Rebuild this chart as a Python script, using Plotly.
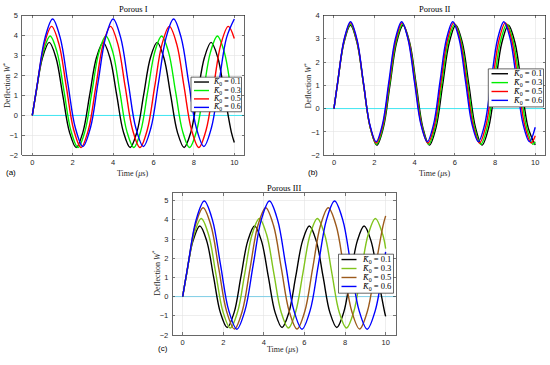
import plotly.graph_objects as go

W_PX, H_PX = 550, 365

# ---------------- data ----------------
K0_values = [0.1, 0.3, 0.5, 0.6]
x_tick_vals = [0, 2, 4, 6, 8, 10]
y_ticks_I = [-2, -1, 0, 1, 2, 3, 4, 5]
y_ticks_II = [-2, -1, 0, 1, 2, 3, 4]
y_ticks_III = [-2, -1, 0, 1, 2, 3, 4, 5]

zero_x_I = [0, 10.5]
zero_x_II = [-0.5, 10.5]
zero_x_III = [-0.5, 10.5]
zero_y = [0, 0]

# Porous I
t_I_01 = [0, 0.170, 0.504, 0.838, 1.172, 1.506, 1.840, 2.174, 2.507, 2.841, 3.175, 3.509, 3.843, 4.177,
          4.511, 4.845, 5.179, 5.513, 5.847, 6.180, 6.514, 6.848, 7.182, 7.516, 7.850, 8.184, 8.518,
          8.852, 9.186, 9.519, 9.853, 10]
W_I_01 = [0, 1.025, 2.881, 3.65, 2.881, 1.025, -0.831, -1.6, -0.831,
          1.025, 2.881, 3.65, 2.881, 1.025, -0.831, -1.6, -0.831,
          1.025, 2.881, 3.65, 2.881, 1.025, -0.831, -1.6, -0.831,
          1.025, 2.881, 3.65, 2.881, 1.025, -0.831, -1.35]
t_I_03 = [0, 0.193, 0.538, 0.883, 1.228, 1.573, 1.918, 2.263, 2.608, 2.953, 3.298, 3.643, 3.988, 4.333,
          4.678, 5.023, 5.368, 5.713, 6.058, 6.403, 6.748, 7.093, 7.438, 7.783, 8.128, 8.473, 8.818,
          9.163, 9.508, 9.853, 10]
W_I_03 = [0, 1.185, 3.154, 3.97, 3.154, 1.185, -0.784, -1.6, -0.784,
          1.185, 3.154, 3.97, 3.154, 1.185, -0.784, -1.6, -0.784,
          1.185, 3.154, 3.97, 3.154, 1.185, -0.784, -1.6, -0.784,
          1.185, 3.154, 3.97, 3.154, 1.185, 0.27]
t_I_05 = [0, 0.227, 0.592, 0.956, 1.320, 1.685, 2.049, 2.414, 2.778, 3.142, 3.507, 3.871, 4.235, 4.600,
          4.964, 5.329, 5.693, 6.057, 6.422, 6.786, 7.150, 7.515, 7.879, 8.244, 8.608, 8.972, 9.337,
          9.701, 10]
W_I_05 = [0, 1.425, 3.564, 4.45, 3.564, 1.425, -0.714, -1.6, -0.714,
          1.425, 3.564, 4.45, 3.564, 1.425, -0.714, -1.6, -0.714,
          1.425, 3.564, 4.45, 3.564, 1.425, -0.714, -1.6, -0.714,
          1.425, 3.564, 4.45, 3.85]
t_I_06 = [0, 0.257, 0.632, 1.006, 1.380, 1.755, 2.129, 2.504, 2.878, 3.252, 3.627, 4.001, 4.375, 4.750,
          5.124, 5.499, 5.873, 6.247, 6.622, 6.996, 7.370, 7.745, 8.119, 8.494, 8.868, 9.242, 9.617, 10]
W_I_06 = [0, 1.635, 3.887, 4.82, 3.887, 1.635, -0.617, -1.55, -0.617,
          1.635, 3.887, 4.82, 3.887, 1.635, -0.617, -1.55, -0.617,
          1.635, 3.887, 4.82, 3.887, 1.635, -0.617, -1.55, -0.617,
          1.635, 3.887, 4.82]

# Porous II
t_II_01 = [0, 0.167, 0.494, 0.821, 1.148, 1.475, 1.802, 2.129, 2.455, 2.782, 3.109, 3.436, 3.763, 4.090,
           4.417, 4.744, 5.071, 5.398, 5.725, 6.051, 6.378, 6.705, 7.032, 7.359, 7.686, 8.013, 8.340,
           8.667, 8.994, 9.320, 9.647, 10]
W_II_01 = [0, 1.005, 2.826, 3.58, 2.826, 1.005, -0.816, -1.57, -0.816,
           1.005, 2.826, 3.58, 2.826, 1.005, -0.816, -1.57, -0.816,
           1.005, 2.826, 3.58, 2.826, 1.005, -0.816, -1.57, -0.816,
           1.005, 2.826, 3.58, 2.826, 1.005, -0.816, -1.56]
t_II_03 = [0, 0.172, 0.496, 0.820, 1.144, 1.468, 1.791, 2.115, 2.439, 2.763, 3.087, 3.410, 3.734, 4.058,
           4.382, 4.706, 5.029, 5.353, 5.677, 6.001, 6.325, 6.648, 6.972, 7.296, 7.620, 7.944, 8.267,
           8.591, 8.915, 9.239, 9.563, 9.886, 10]
W_II_03 = [0, 1.045, 2.866, 3.62, 2.866, 1.045, -0.776, -1.53, -0.776,
           1.045, 2.866, 3.62, 2.866, 1.045, -0.776, -1.53, -0.776,
           1.045, 2.866, 3.62, 2.866, 1.045, -0.776, -1.53, -0.776,
           1.045, 2.866, 3.62, 2.866, 1.045, -0.776, -1.53, -1.43]
t_II_05 = [0, 0.180, 0.500, 0.821, 1.142, 1.462, 1.783, 2.103, 2.424, 2.745, 3.065, 3.386, 3.706, 4.027,
           4.348, 4.668, 4.989, 5.309, 5.630, 5.951, 6.271, 6.592, 6.912, 7.233, 7.554, 7.874, 8.195,
           8.515, 8.836, 9.157, 9.477, 9.798, 10]
W_II_05 = [0, 1.10, 2.924, 3.68, 2.924, 1.10, -0.724, -1.48, -0.724,
           1.10, 2.924, 3.68, 2.924, 1.10, -0.724, -1.48, -0.724,
           1.10, 2.924, 3.68, 2.924, 1.10, -0.724, -1.48, -0.724,
           1.10, 2.924, 3.68, 2.924, 1.10, -0.724, -1.48, -1.17]
t_II_06 = [0, 0.188, 0.506, 0.823, 1.141, 1.458, 1.776, 2.093, 2.411, 2.728, 3.046, 3.363, 3.681, 3.998,
           4.316, 4.633, 4.951, 5.268, 5.586, 5.903, 6.221, 6.538, 6.856, 7.173, 7.491, 7.808, 8.126,
           8.443, 8.761, 9.078, 9.396, 9.713, 10]
W_II_06 = [0, 1.155, 2.976, 3.73, 2.976, 1.155, -0.666, -1.42, -0.666,
           1.155, 2.976, 3.73, 2.976, 1.155, -0.666, -1.42, -0.666,
           1.155, 2.976, 3.73, 2.976, 1.155, -0.666, -1.42, -0.666,
           1.155, 2.976, 3.73, 2.976, 1.155, -0.666, -1.42, -0.80]

# Porous III
t_III_01 = [0, 0.172, 0.510, 0.847, 1.184, 1.522, 1.859, 2.196, 2.534, 2.871, 3.208, 3.545, 3.883, 4.220,
            4.557, 4.895, 5.232, 5.569, 5.906, 6.243, 6.581, 6.918, 7.255, 7.593, 7.930, 8.267, 8.604,
            8.941, 9.279, 9.616, 9.954, 10]
W_III_01 = [0, 1.035, 2.905, 3.68, 2.905, 1.035, -0.835, -1.61, -0.835,
            1.035, 2.905, 3.68, 2.905, 1.035, -0.835, -1.61, -0.835,
            1.035, 2.905, 3.68, 2.905, 1.035, -0.835, -1.61, -0.835,
            1.035, 2.905, 3.68, 2.905, 1.035, -0.835, -1.03]
t_III_03 = [0, 0.202, 0.560, 0.917, 1.275, 1.632, 1.990, 2.347, 2.705, 3.062, 3.420, 3.777, 4.135, 4.492,
            4.850, 5.207, 5.565, 5.922, 6.280, 6.637, 6.995, 7.352, 7.710, 8.067, 8.425, 8.782, 9.140,
            9.497, 9.855, 10]
W_III_03 = [0, 1.215, 3.234, 4.07, 3.234, 1.215, -0.804, -1.64, -0.804,
            1.215, 3.234, 4.07, 3.234, 1.215, -0.804, -1.64, -0.804,
            1.215, 3.234, 4.07, 3.234, 1.215, -0.804, -1.64, -0.804,
            1.215, 3.234, 4.07, 3.234, 2.50]
t_III_05 = [0, 0.237, 0.623, 1.008, 1.393, 1.779, 2.164, 2.550, 2.935, 3.320, 3.706, 4.091, 4.477, 4.862,
            5.247, 5.633, 6.018, 6.404, 6.789, 7.174, 7.560, 7.945, 8.330, 8.716, 9.101, 9.487, 9.872, 10]
W_III_05 = [0, 1.47, 3.704, 4.63, 3.704, 1.47, -0.764, -1.69, -0.764,
            1.47, 3.704, 4.63, 3.704, 1.47, -0.764, -1.69, -0.764,
            1.47, 3.704, 4.63, 3.704, 1.47, -0.764, -1.69, -0.764,
            1.47, 3.704, 4.21]
t_III_06 = [0, 0.262, 0.664, 1.065, 1.466, 1.868, 2.269, 2.670, 3.071, 3.473, 3.874, 4.275, 4.676, 5.078,
            5.479, 5.880, 6.281, 6.683, 7.084, 7.485, 7.886, 8.288, 8.689, 9.090, 9.491, 9.893, 10]
W_III_06 = [0, 1.64, 4.002, 4.98, 4.002, 1.64, -0.722, -1.70, -0.722,
            1.64, 4.002, 4.98, 4.002, 1.64, -0.722, -1.70, -0.722,
            1.64, 4.002, 4.98, 4.002, 1.64, -0.722, -1.70, -0.722,
            1.64, 2.33]

# ---------------- styling ----------------
SERIF = "Liberation Serif, Times New Roman, serif"
SANS = "Liberation Sans, Arial, sans-serif"
AX = "#262626"
GRID = "#e3e3e3"

colors_AB = ["#000000", "#00ee00", "#ff0000", "#0000ff"]
colors_C = ["#000000", "#80c41c", "#9c5a1c", "#0000ff"]


def px_x(p):
    return p / W_PX


def px_y(p):
    return 1 - p / H_PX


panels = [
    dict(series=[(t_I_01, W_I_01), (t_I_03, W_I_03), (t_I_05, W_I_05), (t_I_06, W_I_06)],
         colors=colors_AB, zero_x=zero_x_I, zero_color="#3ee6f2",
         box=(22.2, 11.7, 244.4, 155.3), yr=[-2, 5], yt=y_ticks_I,
         title="Porous I", title_xy=(133.3, 5.5), xlab_xy=(132.5, 173.5), ylab_xy=(7, 84),
         tag="(a)", tag_xy=(11, 173),
         leg_box=(191, 75, 241.5, 110.5), leg_rows=[80, 88.7, 97.3, 106], leg_line=(194, 209),
         leg_text_x=211, leg_font=8),
    dict(series=[(t_II_01, W_II_01), (t_II_03, W_II_03), (t_II_05, W_II_05), (t_II_06, W_II_06)],
         colors=colors_AB, zero_x=zero_x_II, zero_color="#3ee6f2",
         box=(323.9, 11.7, 545.3, 155.0), yr=[-2, 4], yt=y_ticks_II,
         title="Porous II", title_xy=(434.5, 5.5), xlab_xy=(434.5, 173.5), ylab_xy=(307.5, 84),
         tag="(b)", tag_xy=(312.7, 173),
         leg_box=(488.3, 66.5, 543.5, 105.5), leg_rows=[71.5, 80.6, 89.7, 98.8], leg_line=(491.5, 508),
         leg_text_x=510.5, leg_font=8.5),
    dict(series=[(t_III_01, W_III_01), (t_III_03, W_III_03), (t_III_05, W_III_05), (t_III_06, W_III_06)],
         colors=colors_C, zero_x=zero_x_III, zero_color="#7fcfe6",
         box=(172.5, 193.8, 395.8, 339.3), yr=[-2, 5.4], yt=y_ticks_III,
         title="Porous III", title_xy=(284.2, 189), xlab_xy=(282, 354.3), ylab_xy=(156, 276.5),
         tag="(c)", tag_xy=(163, 353.7),
         leg_box=(338.5, 256.5, 393.5, 296.5), leg_rows=[262, 271.2, 280.4, 289.6], leg_line=(341.5, 356.5),
         leg_text_x=359.5, leg_font=8.5),
]


def legend_label(k, fs):
    return ('<span style="font-style:italic;font-size:%spx">K\u0304</span><sub>0</sub>'
            '<span style="font-size:%spx"> = %s</span>' % (fs, fs, k))


fig = go.Figure()
layout = dict(width=W_PX, height=H_PX, margin=dict(l=0, r=0, t=0, b=0), autosize=False,
              paper_bgcolor="white", plot_bgcolor="white", showlegend=False)
shapes = []
annotations = []

for i, p in enumerate(panels, start=1):
    xa = "x" if i == 1 else "x%d" % i
    ya = "y" if i == 1 else "y%d" % i
    xkey = "xaxis" if i == 1 else "xaxis%d" % i
    ykey = "yaxis" if i == 1 else "yaxis%d" % i
    x0, y0, x1, y1 = p["box"]
    axis_common = dict(showline=True, linecolor=AX, linewidth=0.7, mirror="ticks",
                       ticks="inside", ticklen=2.5, tickwidth=0.6, tickcolor=AX,
                       showgrid=True, gridcolor=GRID, gridwidth=0.6, zeroline=False,
                       tickfont=dict(family=SANS, size=7.5, color=AX))
    layout[xkey] = dict(domain=[px_x(x0), px_x(x1)], anchor=ya, range=[-0.5, 10.5],
                        tickvals=x_tick_vals, **axis_common)
    layout[ykey] = dict(domain=[px_y(y1), px_y(y0)], anchor=xa, range=p["yr"],
                        tickvals=p["yt"], ticklabelstandoff=2, **axis_common)

    fig.add_trace(go.Scatter(x=p["zero_x"], y=zero_y, mode="lines", xaxis=xa, yaxis=ya,
                             line=dict(color=p["zero_color"], width=1), hoverinfo="skip"))
    for (t, w), c in zip(p["series"], p["colors"]):
        fig.add_trace(go.Scatter(x=t, y=w, mode="lines", xaxis=xa, yaxis=ya,
                                 line=dict(color=c, width=1.4, shape="spline", smoothing=1)))

    annotations.append(dict(text=p["title"], x=px_x(p["title_xy"][0]), y=px_y(p["title_xy"][1]),
                            xref="paper", yref="paper", showarrow=False, xanchor="center", yanchor="middle",
                            font=dict(family=SERIF, size=8.5, color="#000000")))
    annotations.append(dict(text='Time (<span style="font-style:italic;font-size:8px">\u03bc</span>s)',
                            x=px_x(p["xlab_xy"][0]), y=px_y(p["xlab_xy"][1]),
                            xref="paper", yref="paper", showarrow=False, xanchor="center", yanchor="middle",
                            font=dict(family=SERIF, size=8, color=AX)))
    annotations.append(dict(text='Deflection <span style="font-style:italic;font-size:8px">W</span><sup>*</sup>',
                            x=px_x(p["ylab_xy"][0]), y=px_y(p["ylab_xy"][1]), textangle=-90,
                            xref="paper", yref="paper", showarrow=False, xanchor="center", yanchor="middle",
                            font=dict(family=SERIF, size=8, color=AX)))
    annotations.append(dict(text=p["tag"], x=px_x(p["tag_xy"][0]), y=px_y(p["tag_xy"][1]),
                            xref="paper", yref="paper", showarrow=False, xanchor="center", yanchor="middle",
                            font=dict(family=SANS, size=8, color="#000000")))

    lx0, ly0, lx1, ly1 = p["leg_box"]
    shapes.append(dict(type="rect", xref="paper", yref="paper", x0=px_x(lx0), x1=px_x(lx1),
                       y0=px_y(ly1), y1=px_y(ly0), fillcolor="white",
                       line=dict(color=AX, width=0.7), layer="above"))
    for row_y, c, k in zip(p["leg_rows"], p["colors"], K0_values):
        shapes.append(dict(type="line", xref="paper", yref="paper",
                           x0=px_x(p["leg_line"][0]), x1=px_x(p["leg_line"][1]),
                           y0=px_y(row_y), y1=px_y(row_y), line=dict(color=c, width=1.4), layer="above"))
        annotations.append(dict(text=legend_label(k, p["leg_font"]), x=px_x(p["leg_text_x"]), y=px_y(row_y),
                                xref="paper", yref="paper", showarrow=False, xanchor="left",
                                yanchor="middle", font=dict(family=SERIF, size=p["leg_font"], color="#000000")))

layout["shapes"] = shapes
layout["annotations"] = annotations
fig.update_layout(**layout)
fig.write_html("out.html", config={"displayModeBar": False, "staticPlot": True},
               post_script="document.body.style.margin='0';document.body.style.overflow='hidden';")
